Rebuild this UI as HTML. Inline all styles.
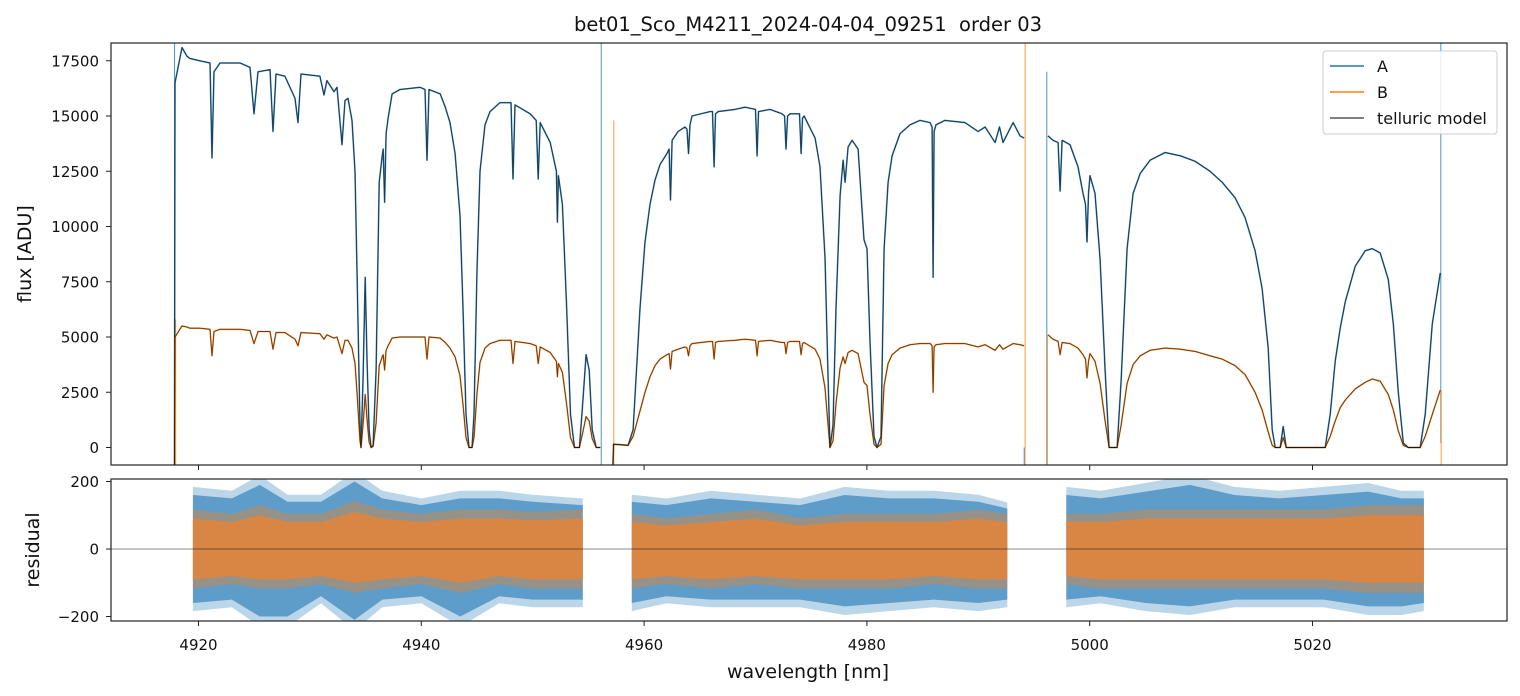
<!DOCTYPE html>
<html><head><meta charset="utf-8"><style>
body{margin:0;background:#fff;}
svg{display:block;font-family:"DejaVu Sans","Liberation Sans",sans-serif;}
</style></head><body>
<svg id="chart" width="1520" height="696" viewBox="0 0 1520 696" xmlns="http://www.w3.org/2000/svg">
<rect width="1520" height="696" fill="#fff"/>
<text x="808" y="31" font-size="19.5" text-anchor="middle" fill="#111" style="white-space:pre">bet01_Sco_M4211_2024-04-04_09251  order 03</text>
<defs>
<clipPath id="ct"><rect x="111" y="43" width="1396" height="422"/></clipPath>
<clipPath id="cr"><rect x="111" y="479" width="1396" height="142"/></clipPath>
</defs>
<g id="gtop" clip-path="url(#ct)"></g>
<g id="gres" clip-path="url(#cr)"></g>
<g id="gaxes"></g>
<g>
<rect x="1323" y="51" width="174" height="83" rx="3" fill="#fff" fill-opacity="0.85" stroke="#ccc"/>
<line x1="1330" y1="66" x2="1364" y2="66" stroke="#1f77b4" stroke-width="1.5"/>
<text x="1377" y="72" font-size="16" fill="#111">A</text>
<line x1="1330" y1="92" x2="1364" y2="92" stroke="#ff7f0e" stroke-width="1.5"/>
<text x="1377" y="98" font-size="16" fill="#111">B</text>
<line x1="1330" y1="118" x2="1364" y2="118" stroke="#555" stroke-width="1.5"/>
<text x="1377" y="124" font-size="16" fill="#111">telluric model</text>
</g>
<text x="0" y="0" transform="translate(31,254) rotate(-90)" font-size="19" text-anchor="middle" fill="#111">flux [ADU]</text>
<text x="0" y="0" transform="translate(39,550) rotate(-90)" font-size="19" text-anchor="middle" fill="#111">residual</text>
<text x="808" y="678" font-size="19" text-anchor="middle" fill="#111">wavelength [nm]</text>
</svg>
<script>
const wl = [4917.85,4917.89,4918.52,4918.97,4919.24,4920.13,4921.03,4921.21,4921.39,4921.93,4923.73,4924.62,4924.98,4925.34,4926.42,4926.69,4926.96,4927.76,4928.66,4928.93,4929.20,4930.90,4931.27,4931.53,4932.16,4932.43,4932.88,4933.15,4933.42,4933.78,4934.05,4934.23,4934.50,4934.59,4934.77,4934.96,4935.13,4935.31,4935.49,4935.67,4935.94,4936.22,4936.49,4936.58,4936.71,4936.84,4937.02,4937.38,4938.09,4939.89,4940.33,4940.51,4940.69,4941.70,4942.15,4942.58,4943.03,4943.47,4943.74,4944.01,4944.28,4944.55,4944.73,4945.00,4945.27,4945.72,4946.17,4947.06,4948.05,4948.23,4948.41,4949.78,4950.31,4950.49,4950.67,4951.57,4952.13,4952.22,4952.31,4952.67,4953.03,4953.39,4953.75,4954.19,4954.46,4954.79,4955.07,4955.34,4955.70,4956.06,
null,
4957.21,4957.25,4958.56,4959.01,4959.63,4960.08,4960.53,4960.98,4961.43,4962.05,4962.24,4962.37,4962.51,4963.05,4963.67,4963.85,4963.99,4964.12,4964.30,4965.92,4966.14,4966.28,4966.41,4966.64,4968.16,4969.06,4970.00,4970.14,4970.27,4971.30,4972.38,4972.61,4972.74,4972.88,4973.10,4973.95,4974.09,4974.22,4974.36,4975.35,4975.79,4976.24,4976.51,4976.69,4976.96,4977.23,4977.59,4977.86,4978.04,4978.31,4978.67,4979.21,4979.74,4980.01,4980.28,4980.64,4980.91,4981.27,4981.54,4981.90,4982.26,4982.97,4983.87,4984.77,4985.67,4985.85,4985.94,4986.03,4986.20,4987.01,4988.81,4989.98,4990.61,4991.51,4991.90,4992.22,4993.12,4993.75,4994.11,
null,
4996.26,4996.71,4997.16,4997.34,4997.52,4998.23,4998.95,4999.40,4999.62,4999.76,4999.89,5000.03,5000.48,5000.93,5001.38,5001.74,5002.46,5002.82,5003.36,5003.90,5004.53,5005.42,5006.77,5008.12,5009.46,5010.81,5011.89,5013.05,5013.95,5014.85,5015.48,5016.02,5016.38,5016.65,5017.10,5017.37,5017.64,5021.14,5021.59,5022.04,5022.49,5022.94,5023.83,5024.73,5025.36,5026.08,5026.80,5027.25,5027.70,5028.15,5028.60,5029.67,5030.12,5030.75,5031.47];
const fluxA = [-800,16500,18100,17700,17600,17500,17400,13100,17000,17400,17400,17200,15100,17000,17100,14300,16900,16800,15800,14700,16900,16800,15950,16600,16100,16300,13700,15700,15800,14800,12500,8000,1000,0,3000,7700,4000,800,0,100,3500,12000,13200,13500,11100,14200,14900,16000,16200,16300,16200,13000,16200,16000,15400,14700,13300,10500,6300,1500,0,0,1500,8000,12500,14600,15200,15600,15600,12150,15500,15100,14800,12150,14700,13800,12500,10200,12300,11000,6500,1500,0,0,1800,4200,3500,800,0,0,
null,
-800,150,100,800,6300,9300,11000,12100,12800,13300,13500,11200,13900,14300,14500,14400,13300,14600,15000,15200,15200,12700,15100,15200,15300,15400,15300,13200,15200,15300,15100,15000,13500,15000,15100,15100,13300,14900,15000,14000,12700,8600,3300,0,1000,6300,11400,13000,12000,13600,13900,13500,9400,9000,4800,500,0,500,9000,12000,13200,14200,14600,14800,14700,14500,7700,14300,14600,14800,14700,14300,14500,13800,14500,13800,14700,14100,14000,
null,
14100,13900,13800,11600,13900,13700,12700,11500,11000,9300,11500,12300,11500,8500,3500,0,0,3000,9000,11500,12400,13000,13350,13200,12950,12500,12000,11300,10400,8900,7200,4500,800,0,0,950,0,0,1500,3900,5400,6600,8200,8900,9000,8800,7600,5600,2500,200,0,0,1500,5600,7900];
const fluxB = [-800,5000,5500,5450,5400,5400,5350,4150,5250,5350,5350,5300,4700,5250,5250,4450,5200,5200,4900,4600,5200,5150,4900,5100,4950,5000,4250,4850,4850,4500,3800,2500,300,0,1000,2400,1300,250,0,50,1100,3700,4100,4200,3500,4400,4600,4950,5000,5000,5000,4000,5000,4950,4750,4500,4100,3250,1950,450,0,0,450,2450,3850,4500,4700,4850,4850,3800,4800,4700,4600,3800,4550,4300,3900,3200,3800,3400,2000,450,0,0,600,1400,1200,400,0,0,
null,
-800,150,100,500,1650,2500,3200,3700,4000,4200,4250,3550,4350,4450,4550,4500,4150,4600,4700,4800,4800,4000,4750,4800,4850,4900,4850,4150,4800,4850,4750,4750,4250,4750,4800,4800,4200,4700,4750,4450,4000,2700,1050,0,300,2000,3600,4100,3800,4300,4400,4250,2950,2800,1500,150,0,150,2800,3800,4200,4500,4650,4700,4700,4600,2500,4550,4650,4700,4700,4550,4650,4400,4650,4450,4700,4650,4600,
null,
5100,4900,4800,4200,4750,4700,4500,4200,4000,3150,3900,4250,3900,2900,1200,0,0,1000,2900,3750,4150,4400,4500,4450,4350,4150,4000,3700,3300,2500,1700,700,100,0,0,450,0,0,500,1200,1800,2150,2650,2950,3100,3000,2400,1700,750,100,0,0,500,1500,2600];
const spikeWl = [4917.85,4917.95,4956.15,4957.28,4994.12,4994.2,4996.15,4996.2,5031.52,5031.55];
const spikeTop = [19000,5800,19000,14800,0,19000,17000,5100,19000,2600];
const spikeBot = [-900,-900,-900,-900,-900,-900,-900,-900,200,-900];
const spikeSeries = ['A','B','A','B','A','B','A','B','A','B'];
const resWl =  [4919.5,4923,4925.5,4928,4931,4934,4936.5,4940,4943.5,4947,4950,4954.5,null,4958.9,4962,4966,4970,4974,4978,4982,4986,4990,4992.6,null,4997.9,5001,5005,5009,5013,5017,5021,5025,5028,5030];
const resAHi = [160,150,190,140,140,200,150,130,150,150,140,130,null,140,130,150,140,130,160,150,150,140,120,null,160,150,170,190,160,150,160,170,150,150];
const resALo = [-160,-150,-200,-200,-140,-210,-150,-140,-200,-140,-150,-150,null,-160,-140,-150,-150,-150,-170,-160,-150,-160,-150,null,-150,-140,-160,-170,-150,-150,-150,-170,-170,-160];
const resBHi = [90,80,100,80,80,110,90,80,90,90,85,90,null,80,70,80,90,70,80,80,80,90,80,null,80,80,90,90,90,90,90,100,100,100];
const resBLo = [-90,-80,-90,-90,-80,-100,-90,-80,-100,-80,-90,-90,null,-90,-80,-90,-80,-90,-90,-90,-80,-90,-90,null,-80,-90,-90,-90,-90,-90,-90,-100,-100,-100];
const xTicks = [4920,4940,4960,4980,5000,5020];
const yTicks = [0,2500,5000,7500,10000,12500,15000,17500];
const rTicks = [-200,0,200];

const NS='http://www.w3.org/2000/svg';
function xS(w){return 198.5+(w-4920)*11.14;}
function yT(f){return 447.5-f*0.0221;}
function yR(r){return 549-r*0.3375;}
function mk(tag,attrs,parent){const e=document.createElementNS(NS,tag);for(const k in attrs)e.setAttribute(k,attrs[k]);parent.appendChild(e);return e;}
const gTop=document.getElementById('gtop'),gRes=document.getElementById('gres'),gAxes=document.getElementById('gaxes');

function pathFor(vals){let d='',pen=false;for(let i=0;i<wl.length;i++){if(wl[i]===null){pen=false;continue;}d+=(pen?'L':'M')+xS(wl[i]).toFixed(1)+','+yT(vals[i]).toFixed(1);pen=true;}return d;}

for(let i=0;i<spikeWl.length;i++){
  const s=mk('line',{x1:xS(spikeWl[i]),x2:xS(spikeWl[i]),y1:yT(spikeTop[i]),y2:yT(spikeBot[i]),stroke:spikeSeries[i]==='A'?'#1f77b4':'#ff7f0e','stroke-width':1,'stroke-opacity':0.8},gTop);
  
  
}
const pA=mk('path',{d:pathFor(fluxA),fill:'none',stroke:'#1f77b4','stroke-width':1.6,'stroke-opacity':0.85,'stroke-linejoin':'round'},gTop);


const pB=mk('path',{d:pathFor(fluxB),fill:'none',stroke:'#ff7f0e','stroke-width':1.6,'stroke-opacity':0.85,'stroke-linejoin':'round'},gTop);


const mA=mk('path',{d:pathFor(fluxA),fill:'none',stroke:'#000','stroke-width':0.9,'stroke-opacity':0.6,'stroke-linejoin':'round'},gTop);


const mB=mk('path',{d:pathFor(fluxB),fill:'none',stroke:'#000','stroke-width':0.9,'stroke-opacity':0.6,'stroke-linejoin':'round'},gTop);



function band(hi,lo,color,op,name){
  let segs=[],cur=[];
  for(let i=0;i<resWl.length;i++){if(resWl[i]===null){segs.push(cur);cur=[];}else cur.push(i);}
  segs.push(cur);
  segs.forEach(s=>{
    let d='';
    s.forEach((i,k)=>{d+=(k?'L':'M')+xS(resWl[i]).toFixed(1)+','+yR(hi[i]).toFixed(1);});
    s.slice().reverse().forEach(i=>{d+='L'+xS(resWl[i]).toFixed(1)+','+yR(lo[i]).toFixed(1);});
    const p=mk('path',{d:d+'Z',fill:color,'fill-opacity':op},gRes);
    
    
  });
}
band(resAHi.map(v=>v===null?null:v*1.15),resALo.map(v=>v===null?null:v*1.15),'#1f77b4',0.3,'residual-a-outer');
band(resAHi,resALo,'#1f77b4',0.6,'residual-a-band');
band(resBHi.map(v=>v===null?null:v*1.3),resBLo.map(v=>v===null?null:v*1.3),'#ff7f0e',0.35,'residual-b-outer');
band(resBHi,resBLo,'#e5843a',0.85,'residual-b-band');
const z=mk('line',{x1:111,x2:1507,y1:yR(0),y2:yR(0),stroke:'#000','stroke-width':0.8,'stroke-opacity':0.6},gRes);



const f1=mk('rect',{x:111,y:43,width:1396,height:422,fill:'none',stroke:'#222','stroke-width':1.2},gAxes);


const f2=mk('rect',{x:111,y:479,width:1396,height:142,fill:'none',stroke:'#222','stroke-width':1.2},gAxes);


xTicks.forEach(t=>{
  const x=xS(t);
  const a=mk('line',{x1:x,x2:x,y1:465,y2:470,stroke:'#222','stroke-width':1},gAxes);
  
  
  const b=mk('line',{x1:x,x2:x,y1:621,y2:626,stroke:'#222','stroke-width':1},gAxes);
  
  
  const l=mk('text',{x:x,y:650,'font-size':15,'text-anchor':'middle',fill:'#111'},gAxes);
  l.textContent=t;
  
  
});
yTicks.forEach(t=>{
  const y=yT(t);
  const a=mk('line',{x1:106,x2:111,y1:y,y2:y,stroke:'#222','stroke-width':1},gAxes);
  
  
  const l=mk('text',{x:99,y:y+5.5,'font-size':15,'text-anchor':'end',fill:'#111'},gAxes);
  l.textContent=t;
  
  
});
rTicks.forEach(t=>{
  const y=yR(t);
  const a=mk('line',{x1:106,x2:111,y1:y,y2:y,stroke:'#222','stroke-width':1},gAxes);
  
  
  const l=mk('text',{x:99,y:y+5.5,'font-size':15,'text-anchor':'end',fill:'#111'},gAxes);
  l.textContent=t===-200?'\u2212200':t;
  
  
});
</script>
</body></html>
